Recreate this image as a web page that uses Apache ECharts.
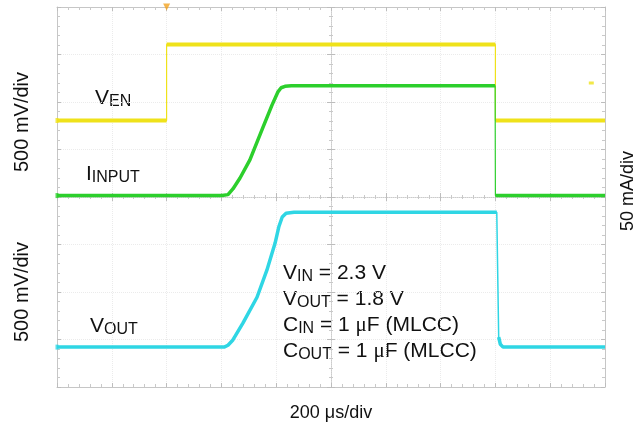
<!DOCTYPE html>
<html><head><meta charset="utf-8">
<script src="https://cdn.jsdelivr.net/npm/echarts@6/dist/echarts.min.js"></script>
<style>html,body{margin:0;padding:0;background:#fff}#c{width:643px;height:433px}</style>
</head><body><div id="c"></div>
<script>
// time in µs (200 µs/div, 10 div), trace levels in screen divisions (0..8, bottom = 0)
const vEnT  = [0, 400, 400, 1600, 1600, 2000];
const vEnY  = [5.61, 5.61, 7.21, 7.21, 5.61, 5.61];
const iInT  = [0, 602, 624, 642, 668, 704, 752, 785, 807, 818, 832, 855, 1599, 1600, 2000];
const iInY  = [4.03, 4.03, 4.05, 4.17, 4.40, 4.78, 5.47, 5.94, 6.22, 6.30, 6.33, 6.34, 6.34, 4.03, 4.03];
const vOutT = [0, 610, 624, 642, 679, 730, 766, 796, 810, 822, 836, 865, 1605, 1612, 1618, 1628, 2000];
const vOutY = [0.84, 0.84, 0.88, 0.99, 1.35, 1.89, 2.46, 3.03, 3.38, 3.58, 3.66, 3.68, 3.68, 1.05, 0.9, 0.84, 0.84];
const xTicks = {min: 0, max: 2000, step: 200};
const yTicks = {min: 0, max: 8, step: 1};

const C_EN = '#efe21a', C_IN = '#2ccf2c', C_OUT = '#2fd6e4';

function pairs(t, y) { return t.map((v, i) => [v, y[i]]); }
function thickParts(t, y) {
  const out = [];
  for (let i = 0; i < t.length; i++) {
    if (i > 0) {
      const dt = t[i] - t[i-1], dy = Math.abs(y[i] - y[i-1]);
      if (dt === 0 || dy / dt > 0.1) out.push('-');
    }
    out.push([t[i], y[i]]);
  }
  return out;
}

const chart = echarts.init(document.getElementById('c'), null, {renderer: 'canvas'});
const FONT = 'Liberation Sans, Arial, sans-serif';
const gridLine = {show: true, lineStyle: {color: '#ebebeb', type: 'dotted', width: 1}};
function xAx(pos, extra) {
  return Object.assign({type: 'value', position: pos, min: xTicks.min, max: xTicks.max, interval: xTicks.step,
    axisLabel: {show: false}, axisLine: {show: true, onZero: false, lineStyle: {color: '#c6c6c6'}},
    axisTick: {show: true, inside: true, length: 4, lineStyle: {color: '#bdbdbd'}},
    minorTick: {show: true, splitNumber: 5, length: 3, lineStyle: {color: '#c9c9c9'}},
    splitLine: {show: false}}, extra || {});
}
function yAx(pos, extra) {
  return Object.assign({type: 'value', position: pos, min: yTicks.min, max: yTicks.max, interval: yTicks.step,
    axisLabel: {show: false}, axisLine: {show: true, onZero: false, lineStyle: {color: '#c6c6c6'}},
    axisTick: {show: true, inside: true, length: 4, lineStyle: {color: '#bdbdbd'}},
    minorTick: {show: true, splitNumber: 5, length: 3, lineStyle: {color: '#c9c9c9'}},
    splitLine: {show: false}}, extra || {});
}
const centerLine = {show: true, onZero: false, lineStyle: {color: '#cccccc', type: 'dotted'}};

function sub(txt) { return '{s|' + txt + '}'; }
const rich = {
  m: {fontSize: 21, fontFamily: FONT, color: '#111', lineHeight: 24, verticalAlign: 'top'},
  s: {fontSize: 16, fontFamily: FONT, color: '#111', lineHeight: 24, verticalAlign: 'top', padding: [6, 0, 0, 0]},
  u: {fontSize: 21, fontFamily: 'Liberation Serif, serif', color: '#111', lineHeight: 24, verticalAlign: 'top'}
};
function label(x, y, str) {
  return {type: 'text', left: x, top: y, style: {text: str, rich: rich, font: '21px ' + FONT, fill: '#111'}};
}
function rot(x, y, str, size) {
  return {type: 'text', x: x, y: y, rotation: Math.PI / 2,
    style: {text: str, font: size + 'px ' + FONT, fill: '#111', align: 'center', verticalAlign: 'middle'}};
}

chart.setOption({
  animation: false,
  grid: {left: 57, top: 7, width: 548, height: 380, show: false},
  xAxis: [
    xAx('bottom', {splitLine: gridLine}),
    xAx('top'),
    xAx('bottom', {offset: -190, axisLine: centerLine, minorTick: {show: true, splitNumber: 5, length: 2, lineStyle: {color: '#c9c9c9'}}}),
    xAx('bottom', {offset: -190, axisLine: {show: false}, axisTick: {show: true, inside: false, length: 4, lineStyle: {color: '#bdbdbd'}}, minorTick: {show: true, splitNumber: 5, length: 2, lineStyle: {color: '#c9c9c9'}}})
  ],
  yAxis: [
    yAx('left', {splitLine: gridLine}),
    yAx('right'),
    yAx('left', {offset: -274, axisLine: centerLine, minorTick: {show: true, splitNumber: 5, length: 2, lineStyle: {color: '#c9c9c9'}}}),
    yAx('left', {offset: -274, axisLine: {show: false}, axisTick: {show: true, inside: false, length: 4, lineStyle: {color: '#bdbdbd'}}, minorTick: {show: true, splitNumber: 5, length: 2, lineStyle: {color: '#c9c9c9'}}})
  ],
  series: [
    {type: 'line', data: pairs(vEnT, vEnY), showSymbol: false, lineStyle: {color: C_EN, width: 1.2}, z: 3},
    {type: 'line', data: thickParts(vEnT, vEnY), showSymbol: false, connectNulls: false, lineStyle: {color: C_EN, width: 4}, z: 3},
    {type: 'line', data: pairs(iInT, iInY), showSymbol: false, lineStyle: {color: C_IN, width: 1.2}, z: 4},
    {type: 'line', data: thickParts(iInT, iInY), showSymbol: false, connectNulls: false, lineStyle: {color: C_IN, width: 3.5}, z: 4},
    {type: 'line', data: pairs(vOutT, vOutY), showSymbol: false, lineStyle: {color: C_OUT, width: 1.5}, z: 5},
    {type: 'line', data: thickParts(vOutT, vOutY), showSymbol: false, connectNulls: false, lineStyle: {color: C_OUT, width: 3.5}, z: 5},
    {type: 'scatter', clip: false, symbol: 'triangle', symbolRotate: 180, symbolSize: 7, itemStyle: {color: '#f3a21f'}, data: [[vEnT[1], yTicks.max]], z: 6},
    {type: 'scatter', clip: false, symbol: 'rect', symbolSize: [3, 5],
      data: [{value: [0, vEnY[0]], itemStyle: {color: C_EN}}, {value: [0, iInY[0]], itemStyle: {color: C_IN}}, {value: [0, vOutY[0]], itemStyle: {color: C_OUT}}], z: 6},
    {type: 'scatter', clip: false, symbol: 'rect', symbolSize: [5, 3], itemStyle: {color: C_EN}, data: [[1950, 6.4]], z: 6}
  ],
  graphic: [
    label(95, 88, '{m|V}' + sub('EN')),
    label(86, 164, '{m|I}' + sub('INPUT')),
    label(90, 316, '{m|V}' + sub('OUT')),
    label(283, 263, '{m|V}' + sub('IN') + '{m| = 2.3 V}'),
    label(283, 289, '{m|V}' + sub('OUT') + '{m| = 1.8 V}'),
    label(283, 315, '{m|C}' + sub('IN') + '{m| = 1 }{u|μ}{m|F (MLCC)}'),
    label(283, 341, '{m|C}' + sub('OUT') + '{m| = 1 }{u|μ}{m|F (MLCC)}'),
    rot(22, 122, '500 mV/div', 20),
    rot(22, 292, '500 mV/div', 20),
    rot(628, 191, '50 mA/div', 18),
    {type: 'text', x: 331, y: 413, style: {text: '200 μs/div', font: '18px ' + FONT, fill: '#111', align: 'center', verticalAlign: 'middle'}}
  ]
});
</script></body></html>
